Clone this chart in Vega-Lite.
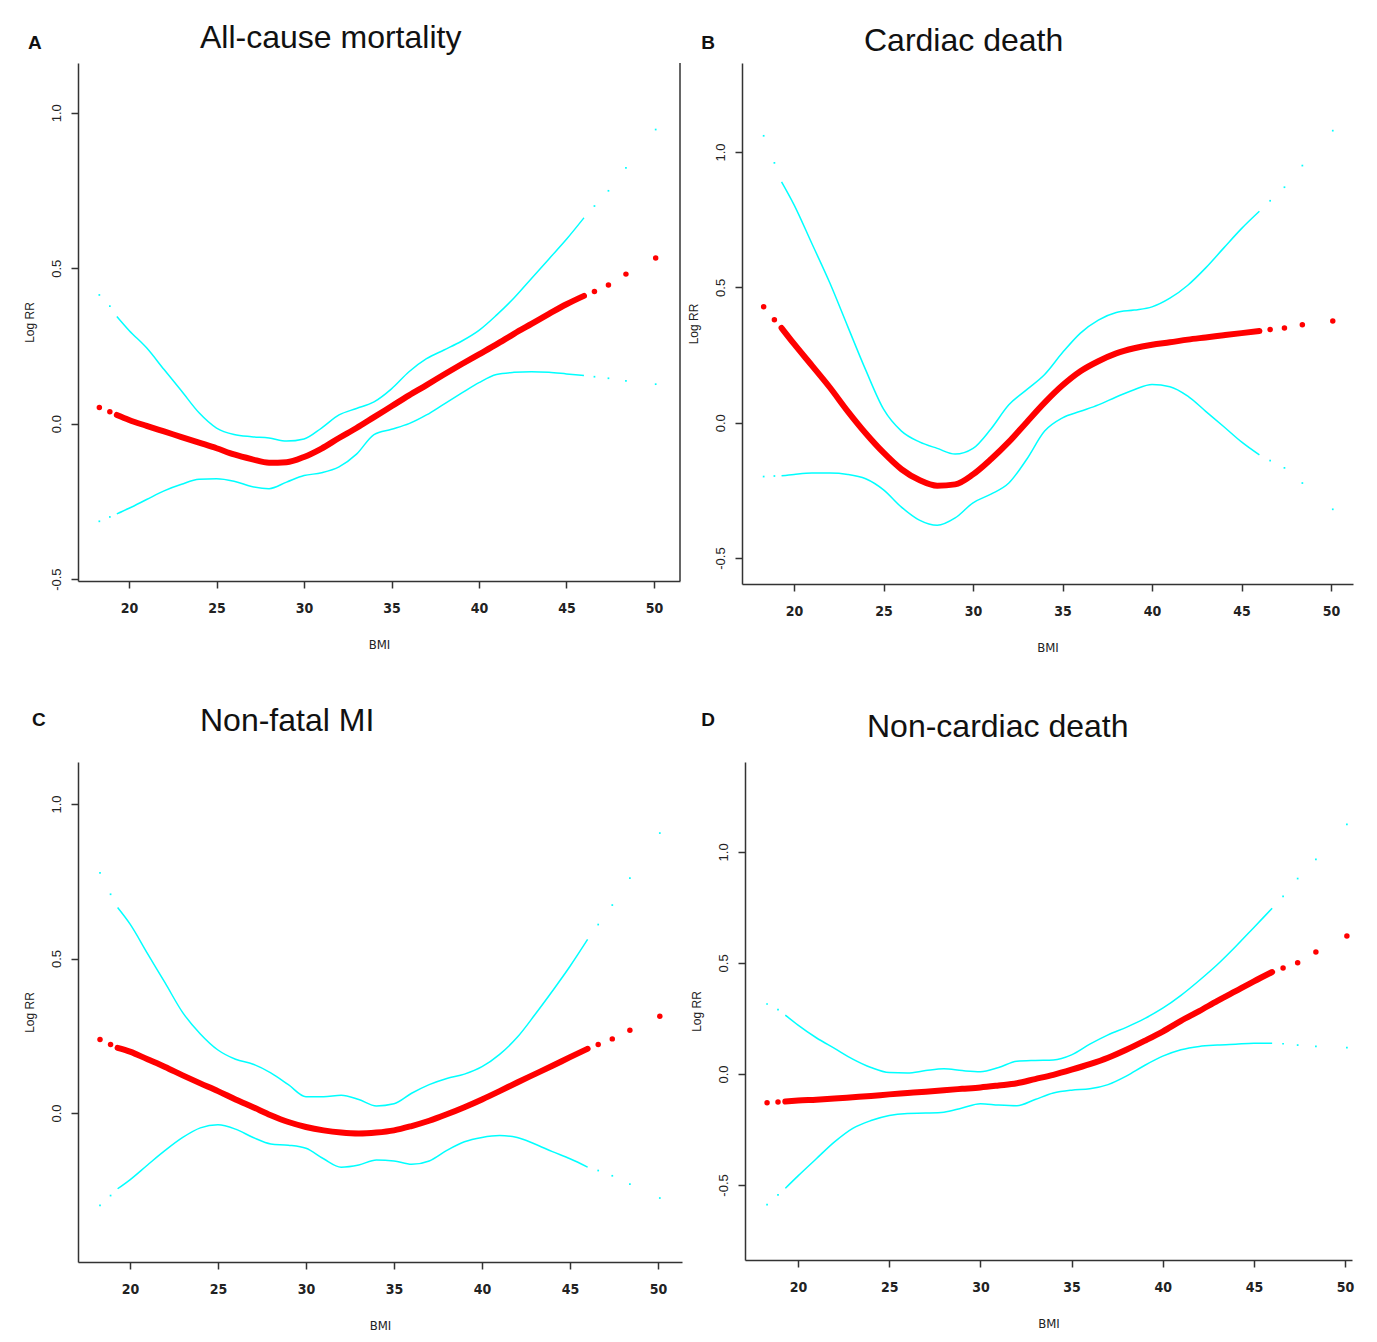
{
  "$schema": "https://vega.github.io/schema/vega-lite/v6.json",
  "background": "white",
  "padding": {"left": 23, "top": 22, "right": 5, "bottom": 5},
  "config": {
    "view": {"stroke": null},
    "font": "Liberation Sans",
    "axis": {
      "domainColor": "#333333", "domainWidth": 1.5, "tickColor": "#333333", "tickWidth": 1.5, "tickSize": 7,
      "grid": false, "labelColor": "#222222", "titleColor": "#222222", "titleFontWeight": "normal"
    },
    "axisX": {"labelFont": "Liberation Sans Narrow, DejaVu Sans Condensed, sans-serif", "labelFontWeight": "bold", "labelFontSize": 14, "labelPadding": 13,
      "titleFont": "Liberation Sans Narrow, DejaVu Sans Condensed, sans-serif", "titleFontSize": 13, "titlePadding": 23},
    "axisY": {"labelFontSize": 13, "labelAngle": -90, "labelPadding": 8, "titleFontSize": 12, "titlePadding": 14},
    "title": {"anchor": "start", "frame": "group", "fontSize": 32, "fontWeight": "normal", "font": "Liberation Sans", "color": "#111111", "dx": 122}
  },
  "datasets": {
    "A": [
      {"bmi": 18.3, "est": 0.052, "lo": -0.314, "hi": 0.414},
      {"bmi": 18.9, "est": 0.038, "lo": -0.300, "hi": 0.378},
      {"bmi": 19.3, "est": 0.028, "lo": -0.290, "hi": 0.345},
      {"bmi": 20, "est": 0.012, "lo": -0.272, "hi": 0.300},
      {"bmi": 21, "est": -0.007, "lo": -0.244, "hi": 0.244},
      {"bmi": 22, "est": -0.025, "lo": -0.216, "hi": 0.174},
      {"bmi": 23, "est": -0.043, "lo": -0.195, "hi": 0.105},
      {"bmi": 24, "est": -0.061, "lo": -0.179, "hi": 0.035},
      {"bmi": 25, "est": -0.079, "lo": -0.177, "hi": -0.014},
      {"bmi": 26, "est": -0.099, "lo": -0.185, "hi": -0.035},
      {"bmi": 27, "est": -0.114, "lo": -0.202, "hi": -0.042},
      {"bmi": 28, "est": -0.126, "lo": -0.209, "hi": -0.046},
      {"bmi": 29, "est": -0.124, "lo": -0.188, "hi": -0.056},
      {"bmi": 30, "est": -0.107, "lo": -0.167, "hi": -0.049},
      {"bmi": 31, "est": -0.080, "lo": -0.158, "hi": -0.014},
      {"bmi": 32, "est": -0.046, "lo": -0.139, "hi": 0.028},
      {"bmi": 33, "est": -0.014, "lo": -0.098, "hi": 0.049},
      {"bmi": 34, "est": 0.021, "lo": -0.035, "hi": 0.070},
      {"bmi": 35, "est": 0.056, "lo": -0.018, "hi": 0.112},
      {"bmi": 36, "est": 0.091, "lo": 0.000, "hi": 0.167},
      {"bmi": 37, "est": 0.124, "lo": 0.028, "hi": 0.209},
      {"bmi": 38, "est": 0.158, "lo": 0.063, "hi": 0.237},
      {"bmi": 39, "est": 0.191, "lo": 0.098, "hi": 0.265},
      {"bmi": 40, "est": 0.223, "lo": 0.132, "hi": 0.300},
      {"bmi": 41, "est": 0.255, "lo": 0.158, "hi": 0.349},
      {"bmi": 42, "est": 0.289, "lo": 0.165, "hi": 0.404},
      {"bmi": 43, "est": 0.321, "lo": 0.167, "hi": 0.467},
      {"bmi": 44, "est": 0.353, "lo": 0.165, "hi": 0.530},
      {"bmi": 45, "est": 0.384, "lo": 0.160, "hi": 0.593},
      {"bmi": 46, "est": 0.411, "lo": 0.155, "hi": 0.662},
      {"bmi": 46.6, "est": 0.425, "lo": 0.151, "hi": 0.700},
      {"bmi": 47.4, "est": 0.446, "lo": 0.146, "hi": 0.749},
      {"bmi": 48.4, "est": 0.481, "lo": 0.138, "hi": 0.823},
      {"bmi": 50.1, "est": 0.533, "lo": 0.127, "hi": 0.946}
    ],
    "B": [
      {"bmi": 18.3, "est": 0.428, "lo": -0.199, "hi": 1.060},
      {"bmi": 18.9, "est": 0.380, "lo": -0.197, "hi": 0.960},
      {"bmi": 19.3, "est": 0.350, "lo": -0.196, "hi": 0.890},
      {"bmi": 20, "est": 0.291, "lo": -0.191, "hi": 0.805},
      {"bmi": 21, "est": 0.211, "lo": -0.186, "hi": 0.661},
      {"bmi": 22, "est": 0.130, "lo": -0.186, "hi": 0.516},
      {"bmi": 23, "est": 0.042, "lo": -0.191, "hi": 0.355},
      {"bmi": 24, "est": -0.039, "lo": -0.207, "hi": 0.195},
      {"bmi": 25, "est": -0.111, "lo": -0.248, "hi": 0.050},
      {"bmi": 26, "est": -0.172, "lo": -0.312, "hi": -0.031},
      {"bmi": 27, "est": -0.212, "lo": -0.360, "hi": -0.071},
      {"bmi": 28, "est": -0.233, "lo": -0.379, "hi": -0.095},
      {"bmi": 29, "est": -0.228, "lo": -0.352, "hi": -0.116},
      {"bmi": 30, "est": -0.191, "lo": -0.296, "hi": -0.095},
      {"bmi": 31, "est": -0.135, "lo": -0.264, "hi": -0.023},
      {"bmi": 32, "est": -0.071, "lo": -0.223, "hi": 0.066},
      {"bmi": 33, "est": 0.002, "lo": -0.135, "hi": 0.122},
      {"bmi": 34, "est": 0.074, "lo": -0.031, "hi": 0.178},
      {"bmi": 35, "est": 0.138, "lo": 0.018, "hi": 0.259},
      {"bmi": 36, "est": 0.190, "lo": 0.042, "hi": 0.331},
      {"bmi": 37, "est": 0.227, "lo": 0.066, "hi": 0.379},
      {"bmi": 38, "est": 0.256, "lo": 0.095, "hi": 0.407},
      {"bmi": 39, "est": 0.275, "lo": 0.122, "hi": 0.416},
      {"bmi": 40, "est": 0.288, "lo": 0.141, "hi": 0.428},
      {"bmi": 41, "est": 0.297, "lo": 0.133, "hi": 0.460},
      {"bmi": 42, "est": 0.307, "lo": 0.098, "hi": 0.508},
      {"bmi": 43, "est": 0.315, "lo": 0.042, "hi": 0.572},
      {"bmi": 44, "est": 0.323, "lo": -0.014, "hi": 0.645},
      {"bmi": 45, "est": 0.331, "lo": -0.071, "hi": 0.717},
      {"bmi": 46, "est": 0.339, "lo": -0.119, "hi": 0.781},
      {"bmi": 46.6, "est": 0.344, "lo": -0.140, "hi": 0.820},
      {"bmi": 47.4, "est": 0.350, "lo": -0.167, "hi": 0.870},
      {"bmi": 48.4, "est": 0.362, "lo": -0.223, "hi": 0.950},
      {"bmi": 50.1, "est": 0.376, "lo": -0.320, "hi": 1.079}
    ],
    "C": [
      {"bmi": 18.3, "est": 0.238, "lo": -0.299, "hi": 0.777},
      {"bmi": 18.9, "est": 0.222, "lo": -0.267, "hi": 0.708},
      {"bmi": 19.3, "est": 0.211, "lo": -0.245, "hi": 0.665},
      {"bmi": 20, "est": 0.199, "lo": -0.216, "hi": 0.612},
      {"bmi": 21, "est": 0.174, "lo": -0.168, "hi": 0.516},
      {"bmi": 22, "est": 0.149, "lo": -0.121, "hi": 0.421},
      {"bmi": 23, "est": 0.122, "lo": -0.079, "hi": 0.325},
      {"bmi": 24, "est": 0.096, "lo": -0.048, "hi": 0.256},
      {"bmi": 25, "est": 0.071, "lo": -0.038, "hi": 0.204},
      {"bmi": 26, "est": 0.044, "lo": -0.052, "hi": 0.174},
      {"bmi": 27, "est": 0.019, "lo": -0.079, "hi": 0.158},
      {"bmi": 28, "est": -0.007, "lo": -0.100, "hi": 0.130},
      {"bmi": 29, "est": -0.029, "lo": -0.104, "hi": 0.092},
      {"bmi": 30, "est": -0.045, "lo": -0.114, "hi": 0.053},
      {"bmi": 31, "est": -0.056, "lo": -0.148, "hi": 0.053},
      {"bmi": 32, "est": -0.063, "lo": -0.175, "hi": 0.058},
      {"bmi": 33, "est": -0.066, "lo": -0.168, "hi": 0.044},
      {"bmi": 34, "est": -0.063, "lo": -0.152, "hi": 0.023},
      {"bmi": 35, "est": -0.056, "lo": -0.155, "hi": 0.030},
      {"bmi": 36, "est": -0.042, "lo": -0.166, "hi": 0.064},
      {"bmi": 37, "est": -0.025, "lo": -0.155, "hi": 0.092},
      {"bmi": 38, "est": -0.004, "lo": -0.121, "hi": 0.112},
      {"bmi": 39, "est": 0.019, "lo": -0.093, "hi": 0.126},
      {"bmi": 40, "est": 0.044, "lo": -0.079, "hi": 0.150},
      {"bmi": 41, "est": 0.071, "lo": -0.073, "hi": 0.190},
      {"bmi": 42, "est": 0.099, "lo": -0.079, "hi": 0.245},
      {"bmi": 43, "est": 0.126, "lo": -0.100, "hi": 0.318},
      {"bmi": 44, "est": 0.153, "lo": -0.125, "hi": 0.395},
      {"bmi": 45, "est": 0.181, "lo": -0.148, "hi": 0.475},
      {"bmi": 46, "est": 0.208, "lo": -0.175, "hi": 0.562},
      {"bmi": 46.6, "est": 0.222, "lo": -0.186, "hi": 0.610},
      {"bmi": 47.4, "est": 0.240, "lo": -0.203, "hi": 0.673},
      {"bmi": 48.4, "est": 0.268, "lo": -0.230, "hi": 0.760},
      {"bmi": 50.1, "est": 0.313, "lo": -0.275, "hi": 0.906}
    ],
    "D": [
      {"bmi": 18.3, "est": -0.130, "lo": -0.589, "hi": 0.315},
      {"bmi": 18.9, "est": -0.126, "lo": -0.545, "hi": 0.290},
      {"bmi": 19.3, "est": -0.124, "lo": -0.515, "hi": 0.265},
      {"bmi": 20, "est": -0.120, "lo": -0.459, "hi": 0.220},
      {"bmi": 21, "est": -0.116, "lo": -0.382, "hi": 0.163},
      {"bmi": 22, "est": -0.111, "lo": -0.306, "hi": 0.115},
      {"bmi": 23, "est": -0.105, "lo": -0.245, "hi": 0.067},
      {"bmi": 24, "est": -0.099, "lo": -0.210, "hi": 0.029},
      {"bmi": 25, "est": -0.092, "lo": -0.187, "hi": 0.006},
      {"bmi": 26, "est": -0.086, "lo": -0.178, "hi": 0.004},
      {"bmi": 27, "est": -0.080, "lo": -0.176, "hi": 0.015},
      {"bmi": 28, "est": -0.073, "lo": -0.172, "hi": 0.023},
      {"bmi": 29, "est": -0.067, "lo": -0.153, "hi": 0.015},
      {"bmi": 30, "est": -0.061, "lo": -0.134, "hi": 0.010},
      {"bmi": 31, "est": -0.052, "lo": -0.140, "hi": 0.029},
      {"bmi": 32, "est": -0.042, "lo": -0.143, "hi": 0.057},
      {"bmi": 33, "est": -0.023, "lo": -0.115, "hi": 0.061},
      {"bmi": 34, "est": -0.004, "lo": -0.086, "hi": 0.063},
      {"bmi": 35, "est": 0.019, "lo": -0.073, "hi": 0.086},
      {"bmi": 36, "est": 0.044, "lo": -0.067, "hi": 0.134},
      {"bmi": 37, "est": 0.073, "lo": -0.048, "hi": 0.176},
      {"bmi": 38, "est": 0.109, "lo": -0.010, "hi": 0.210},
      {"bmi": 39, "est": 0.149, "lo": 0.038, "hi": 0.249},
      {"bmi": 40, "est": 0.191, "lo": 0.080, "hi": 0.296},
      {"bmi": 41, "est": 0.239, "lo": 0.109, "hi": 0.354},
      {"bmi": 42, "est": 0.283, "lo": 0.124, "hi": 0.421},
      {"bmi": 43, "est": 0.329, "lo": 0.130, "hi": 0.493},
      {"bmi": 44, "est": 0.373, "lo": 0.134, "hi": 0.574},
      {"bmi": 45, "est": 0.417, "lo": 0.138, "hi": 0.660},
      {"bmi": 46, "est": 0.459, "lo": 0.138, "hi": 0.746},
      {"bmi": 46.6, "est": 0.477, "lo": 0.136, "hi": 0.800},
      {"bmi": 47.4, "est": 0.501, "lo": 0.130, "hi": 0.880},
      {"bmi": 48.4, "est": 0.549, "lo": 0.124, "hi": 0.966},
      {"bmi": 50.1, "est": 0.621, "lo": 0.119, "hi": 1.124}
    ]
  },
  "spacing": 50,
  "vconcat": [
    {
      "spacing": 6,
      "hconcat": [
        {
          "width": 602, "height": 518,
          "title": {"text": "All-cause mortality", "offset": -21},
          "data": {"name": "A"},
          "encoding": {"x": {"field": "bmi", "type": "quantitative", "title": "BMI", "scale": {"domain": [17.08, 51.49], "nice": false, "zero": false}, "axis": {"values": [20, 25, 30, 35, 40, 45, 50]}}},
          "layer": [
            {"transform": [{"fold": ["lo", "hi"], "as": ["bound", "val"]}, {"filter": "datum.bmi >= 19.2 && datum.bmi <= 46.5"}],
             "mark": {"type": "line", "color": "#00FFFF", "strokeWidth": 1.5, "interpolate": "monotone"},
             "encoding": {"detail": {"field": "bound"}, "y": {"field": "val", "type": "quantitative", "title": "Log RR", "scale": {"domain": [-0.506, 1.16], "nice": false, "zero": false}, "axis": {"values": [-0.5, 0, 0.5, 1], "labelExpr": "replace(format(datum.value, '.1f'), '\u2212', '-')"}}}},
            {"transform": [{"fold": ["lo", "hi"], "as": ["bound", "val"]}, {"filter": "datum.bmi < 19.2 || datum.bmi > 46.5"}],
             "mark": {"type": "square", "color": "#00FFFF", "size": 3, "opacity": 1},
             "encoding": {"y": {"field": "val", "type": "quantitative", "title": "Log RR", "scale": {"domain": [-0.506, 1.16], "nice": false, "zero": false}}}},
            {"transform": [{"filter": "datum.bmi >= 19.2 && datum.bmi <= 46.5"}],
             "mark": {"type": "line", "color": "#FF0000", "strokeWidth": 6, "strokeCap": "round", "interpolate": "monotone"},
             "encoding": {"y": {"field": "est", "type": "quantitative", "title": "Log RR", "scale": {"domain": [-0.506, 1.16], "nice": false, "zero": false}}}},
            {"transform": [{"filter": "datum.bmi < 19.2 || datum.bmi > 46.5"}],
             "mark": {"type": "circle", "color": "#FF0000", "size": 30, "opacity": 1},
             "encoding": {"y": {"field": "est", "type": "quantitative", "title": "Log RR", "scale": {"domain": [-0.506, 1.16], "nice": false, "zero": false}}}},
            {"transform": [{"filter": "datum.bmi == 18.3"}],
             "mark": {"type": "text", "fontWeight": "bold", "fontSize": 19, "align": "center", "baseline": "middle", "color": "#111111", "text": "A"},
             "encoding": {"x": {"datum": 14.62}, "y": {"datum": 1.224}}},
            {"transform": [{"filter": "datum.bmi == 50.1"}],
             "mark": {"type": "rule", "color": "#333333", "strokeWidth": 1.5},
             "encoding": {"x": {"datum": 51.49}}}
          ]
        },
        {
          "width": 611, "height": 521,
          "title": {"text": "Cardiac death", "offset": -24},
          "data": {"name": "B"},
          "encoding": {"x": {"field": "bmi", "type": "quantitative", "title": "BMI", "scale": {"domain": [17.09, 51.23], "nice": false, "zero": false}, "axis": {"values": [20, 25, 30, 35, 40, 45, 50]}}},
          "layer": [
            {"transform": [{"fold": ["lo", "hi"], "as": ["bound", "val"]}, {"filter": "datum.bmi >= 19.2 && datum.bmi <= 46.5"}],
             "mark": {"type": "line", "color": "#00FFFF", "strokeWidth": 1.5, "interpolate": "monotone"},
             "encoding": {"detail": {"field": "bound"}, "y": {"field": "val", "type": "quantitative", "title": "Log RR", "scale": {"domain": [-0.596, 1.329], "nice": false, "zero": false}, "axis": {"values": [-0.5, 0, 0.5, 1], "labelExpr": "replace(format(datum.value, '.1f'), '\u2212', '-')"}}}},
            {"transform": [{"fold": ["lo", "hi"], "as": ["bound", "val"]}, {"filter": "datum.bmi < 19.2 || datum.bmi > 46.5"}],
             "mark": {"type": "square", "color": "#00FFFF", "size": 3, "opacity": 1},
             "encoding": {"y": {"field": "val", "type": "quantitative", "title": "Log RR", "scale": {"domain": [-0.596, 1.329], "nice": false, "zero": false}}}},
            {"transform": [{"filter": "datum.bmi >= 19.2 && datum.bmi <= 46.5"}],
             "mark": {"type": "line", "color": "#FF0000", "strokeWidth": 6, "strokeCap": "round", "interpolate": "monotone"},
             "encoding": {"y": {"field": "est", "type": "quantitative", "title": "Log RR", "scale": {"domain": [-0.596, 1.329], "nice": false, "zero": false}}}},
            {"transform": [{"filter": "datum.bmi < 19.2 || datum.bmi > 46.5"}],
             "mark": {"type": "circle", "color": "#FF0000", "size": 30, "opacity": 1},
             "encoding": {"y": {"field": "est", "type": "quantitative", "title": "Log RR", "scale": {"domain": [-0.596, 1.329], "nice": false, "zero": false}}}},
            {"transform": [{"filter": "datum.bmi == 18.3"}],
             "mark": {"type": "text", "fontWeight": "bold", "fontSize": 19, "align": "center", "baseline": "middle", "color": "#111111", "text": "B"},
             "encoding": {"x": {"datum": 15.19}, "y": {"datum": 1.402}}}
          ]
        }
      ]
    },
    {
      "spacing": 8,
      "hconcat": [
        {
          "width": 604, "height": 500,
          "title": {"text": "Non-fatal MI", "offset": -27},
          "data": {"name": "C"},
          "encoding": {"x": {"field": "bmi", "type": "quantitative", "title": "BMI", "scale": {"domain": [17.05, 51.36], "nice": false, "zero": false}, "axis": {"values": [20, 25, 30, 35, 40, 45, 50]}}},
          "layer": [
            {"transform": [{"fold": ["lo", "hi"], "as": ["bound", "val"]}, {"filter": "datum.bmi >= 19.2 && datum.bmi <= 46.5"}],
             "mark": {"type": "line", "color": "#00FFFF", "strokeWidth": 1.5, "interpolate": "monotone"},
             "encoding": {"detail": {"field": "bound"}, "y": {"field": "val", "type": "quantitative", "title": "Log RR", "scale": {"domain": [-0.482, 1.136], "nice": false, "zero": false}, "axis": {"values": [0, 0.5, 1], "labelExpr": "replace(format(datum.value, '.1f'), '\u2212', '-')"}}}},
            {"transform": [{"fold": ["lo", "hi"], "as": ["bound", "val"]}, {"filter": "datum.bmi < 19.2 || datum.bmi > 46.5"}],
             "mark": {"type": "square", "color": "#00FFFF", "size": 3, "opacity": 1},
             "encoding": {"y": {"field": "val", "type": "quantitative", "title": "Log RR", "scale": {"domain": [-0.482, 1.136], "nice": false, "zero": false}}}},
            {"transform": [{"filter": "datum.bmi >= 19.2 && datum.bmi <= 46.5"}],
             "mark": {"type": "line", "color": "#FF0000", "strokeWidth": 6, "strokeCap": "round", "interpolate": "monotone"},
             "encoding": {"y": {"field": "est", "type": "quantitative", "title": "Log RR", "scale": {"domain": [-0.482, 1.136], "nice": false, "zero": false}}}},
            {"transform": [{"filter": "datum.bmi < 19.2 || datum.bmi > 46.5"}],
             "mark": {"type": "circle", "color": "#FF0000", "size": 30, "opacity": 1},
             "encoding": {"y": {"field": "est", "type": "quantitative", "title": "Log RR", "scale": {"domain": [-0.482, 1.136], "nice": false, "zero": false}}}},
            {"transform": [{"filter": "datum.bmi == 18.3"}],
             "mark": {"type": "text", "fontWeight": "bold", "fontSize": 19, "align": "center", "baseline": "middle", "color": "#111111", "text": "C"},
             "encoding": {"x": {"datum": 14.83}, "y": {"datum": 1.272}}}
          ]
        },
        {
          "width": 607, "height": 498,
          "title": {"text": "Non-cardiac death", "offset": -33},
          "data": {"name": "D"},
          "encoding": {"x": {"field": "bmi", "type": "quantitative", "title": "BMI", "scale": {"domain": [17.09, 50.38], "nice": false, "zero": false}, "axis": {"values": [20, 25, 30, 35, 40, 45, 50]}}},
          "layer": [
            {"transform": [{"fold": ["lo", "hi"], "as": ["bound", "val"]}, {"filter": "datum.bmi >= 19.2 && datum.bmi <= 46.5"}],
             "mark": {"type": "line", "color": "#00FFFF", "strokeWidth": 1.5, "interpolate": "monotone"},
             "encoding": {"detail": {"field": "bound"}, "y": {"field": "val", "type": "quantitative", "title": "Log RR", "scale": {"domain": [-0.838, 1.405], "nice": false, "zero": false}, "axis": {"values": [-0.5, 0, 0.5, 1], "labelExpr": "replace(format(datum.value, '.1f'), '\u2212', '-')"}}}},
            {"transform": [{"fold": ["lo", "hi"], "as": ["bound", "val"]}, {"filter": "datum.bmi < 19.2 || datum.bmi > 46.5"}],
             "mark": {"type": "square", "color": "#00FFFF", "size": 3, "opacity": 1},
             "encoding": {"y": {"field": "val", "type": "quantitative", "title": "Log RR", "scale": {"domain": [-0.838, 1.405], "nice": false, "zero": false}}}},
            {"transform": [{"filter": "datum.bmi >= 19.2 && datum.bmi <= 46.5"}],
             "mark": {"type": "line", "color": "#FF0000", "strokeWidth": 6, "strokeCap": "round", "interpolate": "monotone"},
             "encoding": {"y": {"field": "est", "type": "quantitative", "title": "Log RR", "scale": {"domain": [-0.838, 1.405], "nice": false, "zero": false}}}},
            {"transform": [{"filter": "datum.bmi < 19.2 || datum.bmi > 46.5"}],
             "mark": {"type": "circle", "color": "#FF0000", "size": 30, "opacity": 1},
             "encoding": {"y": {"field": "est", "type": "quantitative", "title": "Log RR", "scale": {"domain": [-0.838, 1.405], "nice": false, "zero": false}}}},
            {"transform": [{"filter": "datum.bmi == 18.3"}],
             "mark": {"type": "text", "fontWeight": "bold", "fontSize": 19, "align": "center", "baseline": "middle", "color": "#111111", "text": "D"},
             "encoding": {"x": {"datum": 15.06}, "y": {"datum": 1.595}}}
          ]
        }
      ]
    }
  ]
}
